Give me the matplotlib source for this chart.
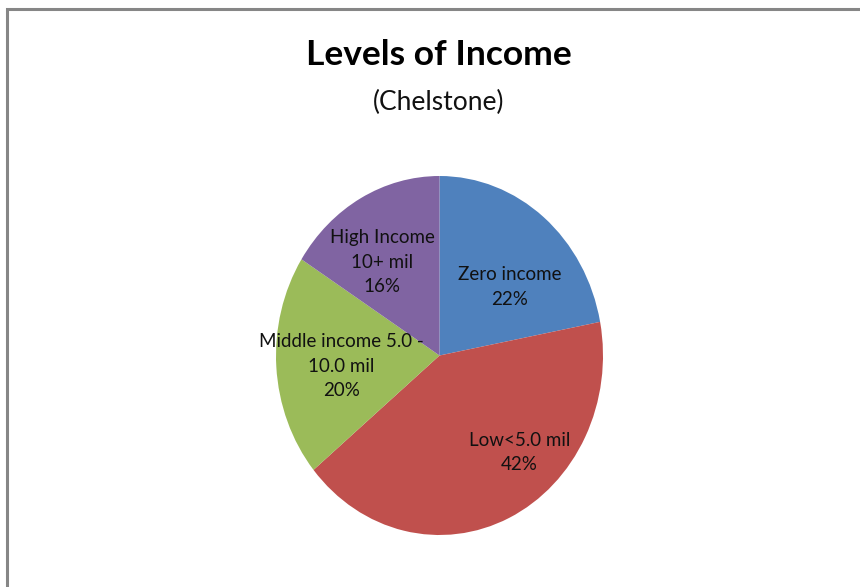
import matplotlib.pyplot as plt
from matplotlib.patches import Rectangle

# income groups for Chelstone
categories = ["Zero income", "Low<5.0 mil", "Middle income 5.0 -\n10.0 mil", "High Income\n10+ mil"]
shares = [22, 42, 20, 16]
colors = ["#4F81BD", "#C0504D", "#9BBB59", "#8064A2"]

# where each label sits inside the pie (axes data units, radius = 1)
label_pos = [(0.43, 0.38), (0.49, -0.54), (-0.6, -0.06), (-0.35, 0.52)]

W, H = 860, 587
fig = plt.figure(figsize=(W / 100, H / 100), dpi=100)
fig.patch.set_facecolor("white")

# chart area border, cut off on the right and bottom
fig.add_artist(Rectangle((7 / W, -0.2), 1.5, 1.2 - 9 / H, transform=fig.transFigure,
                         fill=False, edgecolor="#868686", linewidth=2.2))

# pie is slightly taller than wide, so the axes box is not square
left, right, top, bottom = 276, 603, 176, 535
ax = fig.add_axes([left / W, 1 - bottom / H, (right - left) / W, (bottom - top) / H])
ax.pie(shares, colors=colors, startangle=90, counterclock=False, radius=1,
       wedgeprops=dict(linewidth=0))
ax.set_aspect("auto")
ax.set_xlim(-1, 1)
ax.set_ylim(-1, 1)
ax.axis("off")

for name, val, (x, y) in zip(categories, shares, label_pos):
    ax.text(x, y, f"{name}\n{val}%", ha="center", va="center", fontsize=13.5,
            family="Lato", color="#111111", linespacing=1.55)

fig.text(439 / W, 1 - 55 / H, "Levels of Income", ha="center", va="center",
         fontsize=25.5, fontweight="bold", family="Lato")
fig.text(439 / W, 1 - 102 / H, "(Chelstone)", ha="center", va="center",
         fontsize=19, family="Lato", color="#111111")

fig.savefig("out.png", dpi=100, facecolor="white")
